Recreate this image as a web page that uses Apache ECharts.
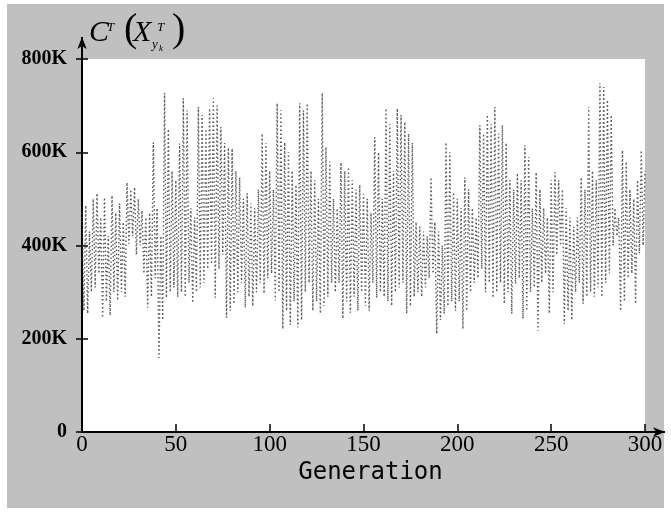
<!DOCTYPE html>
<html>
<head>
<meta charset="utf-8">
<script src="https://cdn.jsdelivr.net/npm/echarts@6/dist/echarts.min.js"></script>
<style>
  html, body { margin: 0; padding: 0; background: #fff; }
  #frame { position: absolute; left: 7px; top: 4px; width: 657px; height: 504px; background: #c0c0c0; }
  #chart { position: absolute; left: 0; top: 0; width: 671px; height: 516px; }
</style>
</head>
<body>
<div id="frame"></div>
<div id="chart"></div>
<script>
// cost per generation, in thousands (K)
const costK = [
  470, 260, 486, 254, 430, 300, 500, 310, 512, 340,
  460, 245, 503, 280, 420, 250, 507, 300, 470, 282,
  490, 300, 450, 290, 535, 404, 520, 420, 525, 380,
  500, 400, 475, 340, 460, 267, 470, 290, 621, 330,
  480, 159, 420, 240, 727, 288, 650, 300, 560, 310,
  540, 290, 619, 300, 716, 290, 690, 320, 480, 277,
  460, 300, 697, 310, 680, 320, 650, 350, 694, 360,
  716, 288, 700, 350, 654, 380, 620, 245, 610, 260,
  608, 275, 560, 300, 546, 320, 500, 267, 512, 290,
  490, 270, 480, 300, 520, 320, 640, 297, 620, 330,
  560, 340, 520, 282, 705, 300, 690, 221, 621, 260,
  600, 230, 560, 280, 530, 224, 705, 240, 690, 300,
  705, 320, 560, 260, 540, 280, 500, 254, 727, 270,
  611, 290, 580, 320, 500, 300, 480, 320, 578, 243,
  560, 280, 568, 256, 540, 290, 520, 260, 530, 300,
  510, 270, 500, 260, 470, 320, 632, 288, 600, 300,
  500, 290, 694, 280, 660, 271, 560, 300, 694, 310,
  680, 320, 665, 254, 640, 270, 620, 290, 450, 300,
  440, 290, 430, 310, 420, 330, 546, 340, 450, 210,
  430, 240, 400, 254, 621, 270, 600, 280, 514, 260,
  500, 280, 480, 221, 546, 260, 520, 300, 480, 320,
  460, 330, 658, 350, 640, 300, 680, 320, 660, 288,
  697, 300, 640, 320, 658, 275, 620, 300, 540, 254,
  520, 318, 555, 330, 540, 243, 615, 260, 590, 300,
  480, 310, 557, 217, 520, 320, 480, 340, 460, 254,
  540, 300, 557, 380, 540, 400, 520, 232, 480, 260,
  460, 240, 440, 300, 460, 320, 546, 275, 520, 290,
  697, 300, 560, 290, 540, 310, 748, 290, 740, 320,
  712, 340, 680, 400, 480, 420, 460, 260, 604, 280,
  580, 330, 520, 340, 500, 275, 540, 383, 604, 400,
  560
];
const generations = costK.map((v, i) => i);

const chart = echarts.init(document.getElementById('chart'));

const option = {
  animation: false,
  grid: {
    left: 82, right: 26, top: 59, bottom: 84,
    show: true, backgroundColor: '#fff', borderWidth: 0
  },
  xAxis: {
    type: 'value',
    min: 0, max: 300, interval: 50,
    name: 'Generation',
    nameLocation: 'middle',
    nameGap: 22,
    nameTextStyle: { fontFamily: 'DejaVu Sans Mono', fontSize: 24, color: '#000', padding: [0, 0, 0, 14] },
    axisLine: {
      lineStyle: { color: '#000', width: 2 },
      symbol: ['none', 'arrow'], symbolSize: [7, 12], symbolOffset: [0, 20]
    },
    axisTick: { inside: true, length: 8, lineStyle: { color: '#000', width: 1.5 } },
    axisLabel: { margin: 1, fontFamily: 'Liberation Serif', fontSize: 23, color: '#000' },
    splitLine: { show: false }
  },
  yAxis: [{
    type: 'value',
    min: 0, max: 800, interval: 200,
    axisLine: {
      show: true,
      lineStyle: { color: '#000', width: 2 },
      symbol: ['none', 'arrow'], symbolSize: [7, 12], symbolOffset: [0, 22]
    },
    axisTick: { show: true, inside: false, length: 6, lineStyle: { color: '#000', width: 1.5 } },
    axisLabel: {
      margin: 15, fontFamily: 'Liberation Serif', fontWeight: 'bold', fontSize: 20, color: '#000',
      formatter: v => v === 0 ? '0' : v + 'K'
    },
    splitLine: { show: false }
  }, {
    type: 'value',
    position: 'left',
    min: 0, max: 800, interval: 200,
    axisLine: { show: false },
    axisTick: { show: true, inside: true, length: 6, lineStyle: { color: '#000', width: 1.5 } },
    axisLabel: { show: false },
    splitLine: { show: false }
  }],
  series: [{
    type: 'line',
    data: generations.map((g, i) => [g, costK[i]]),
    showSymbol: false,
    lineStyle: { color: '#333', width: 1.4, type: [1.5, 2.5], opacity: 0.8 }
  }]
};
chart.setOption(option);

const x0 = chart.convertToPixel({ xAxisIndex: 0 }, 0);
const xEnd = chart.convertToPixel({ xAxisIndex: 0 }, 300);
const y0 = chart.convertToPixel({ yAxisIndex: 0 }, 0);
const yEnd = chart.convertToPixel({ yAxisIndex: 0 }, 800);

const serif = 'Liberation Serif';
chart.setOption({
  graphic: [
    { type: 'line', shape: { x1: xEnd, y1: y0, x2: xEnd + 20, y2: y0 }, style: { stroke: '#000', lineWidth: 2 } },
    { type: 'line', shape: { x1: x0, y1: yEnd, x2: x0, y2: yEnd - 22 }, style: { stroke: '#000', lineWidth: 2 } },
    // title C^T ( X^T_{y_k} )
    { type: 'text', left: 89, top: 18, style: { text: 'C', font: 'italic 30px ' + serif, fill: '#000' } },
    { type: 'text', left: 107, top: 21, style: { text: 'T', font: 'italic 13px ' + serif, fill: '#000' } },
    { type: 'text', left: 124, top: 10, style: { text: '(', font: '40px ' + serif, fill: '#000' } },
    { type: 'text', left: 133, top: 18, style: { text: 'X', font: 'italic 30px ' + serif, fill: '#000' } },
    { type: 'text', left: 157, top: 21, style: { text: 'T', font: 'italic 13px ' + serif, fill: '#000' } },
    { type: 'text', left: 152, top: 38, style: { text: 'y', font: 'italic 13px ' + serif, fill: '#000' } },
    { type: 'text', left: 159, top: 44, style: { text: 'k', font: 'italic 9px ' + serif, fill: '#000' } },
    { type: 'text', left: 172, top: 10, style: { text: ')', font: '40px ' + serif, fill: '#000' } }
  ]
});
</script>
</body>
</html>
